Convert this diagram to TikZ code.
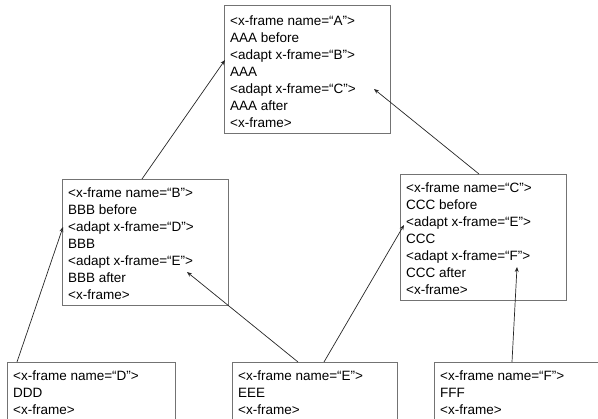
\documentclass[tikz,border=0pt]{standalone}
\usepackage{fontspec}
\setmainfont{Liberation Sans}
\usetikzlibrary{calc,arrows.meta}
\begin{document}
\begin{tikzpicture}[x=1pt,y=-1pt,
  frame/.style={draw=black!55, line width=1.2pt, anchor=north west, inner sep=0pt, minimum width=166pt},
  code/.style={anchor=north west, align=left, inner sep=0pt, font=\fontsize{13.5}{17}\selectfont},
  link/.style={draw=black!85, line width=0.7pt, -{Stealth[length=5pt,width=4pt]}}]
\useasboundingbox (0,0) rectangle (598,419);
\clip (0,0) rectangle (598,419);
% boxes
\node[frame, minimum height=128pt] (A) at (224,5) {};
\node[frame, minimum height=126pt] (B) at (62,179) {};
\node[frame, minimum height=126pt] (C) at (400,174) {};
\node[frame, minimum width=168pt, minimum height=80pt] (D) at (7,362) {};
\node[frame, minimum width=165pt, minimum height=80pt] (E) at (232,362) {};
\node[frame, minimum width=168pt, minimum height=80pt] (F) at (434,362) {};
% texts
\node[code] (At) at ($(A.north west)+(6,11)$) {<x-frame name=“A”>\\AAA before\\<adapt x-frame=“B”>\\AAA\\<adapt x-frame=“C”>\\AAA after\\<x-frame>};
\node[code] (Bt) at ($(B.north west)+(6,9)$) {<x-frame name=“B”>\\BBB before\\<adapt x-frame=“D”>\\BBB\\<adapt x-frame=“E”>\\BBB after\\<x-frame>};
\node[code] (Ct) at ($(C.north west)+(6,9)$) {<x-frame name=“C”>\\CCC before\\<adapt x-frame=“E”>\\CCC\\<adapt x-frame=“F”>\\CCC after\\<x-frame>};
\node[code] (Dt) at ($(D.north west)+(6,9)$) {<x-frame name=“D”>\\DDD\\<x-frame>};
\node[code] (Et) at ($(E.north west)+(6,9)$) {<x-frame name=“E”>\\EEE\\<x-frame>};
\node[code] (Ft) at ($(F.north west)+(6,9)$) {<x-frame name=“F”>\\FFF\\<x-frame>};
% connectors
\draw[link] ($(B.north west)+(80,0)$) -- ($(A.north west)+(1,55)$);
\draw[link] ($(C.north west)+(79,0)$) -- ($(A.north west)+(150,84)$);
\draw[link] ($(D.north west)+(10,0)$) -- ($(B.north west)+(1,48)$);
\draw[link] ($(E.north west)+(66,0)$) -- ($(B.north west)+(125,93)$);
\draw[link] ($(E.north west)+(92,0)$) -- ($(C.north west)+(4,51)$);
\draw[link] ($(F.north west)+(78,0)$) -- ($(C.north west)+(117,93)$);
\end{tikzpicture}
\end{document}
